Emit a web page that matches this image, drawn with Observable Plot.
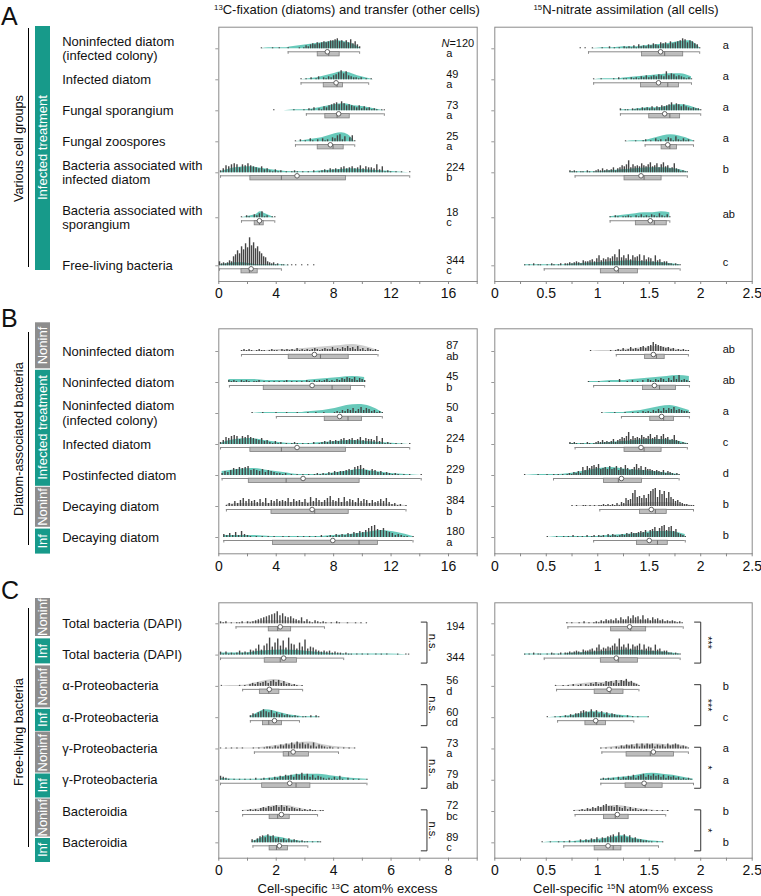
<!DOCTYPE html>
<html>
<head>
<meta charset="utf-8">
<script src="https://cdn.jsdelivr.net/npm/d3@7"></script>
<script src="https://cdn.jsdelivr.net/npm/@observablehq/plot@0.6"></script>
<style>
  html, body { margin: 0; padding: 0; background: #fff; }
  body { font-family: "Liberation Sans", Arial, Helvetica, sans-serif; color: #111; }
  #fig { position: relative; width: 761px; height: 896px; overflow: hidden; background: #fff; }
  #fig > * { position: absolute; }
  .vtxt { writing-mode: vertical-rl; transform: rotate(180deg); text-align: center; white-space: nowrap; }
  sup { font-size: 0.6em; vertical-align: 0.55em; line-height: 0; }
</style>
</head>
<body>
<div id="fig"></div>
<script>
// ---------------- DATA ----------------
// Panel A
const labelsA = ["Noninfected diatom\n(infected colony)", "Infected diatom", "Fungal sporangium", "Fungal zoospores",
  "Bacteria associated with\ninfected diatom", "Bacteria associated with\nsporangium", "Free-living bacteria"];
const treatA = ["inf", "inf", "inf", "inf", "inf", "inf", "inf"];
const nA = ["N=120", "49", "73", "25", "224", "18", "344"];
const letA13C = ["a", "a", "a", "a", "b", "c", "c"];
const letA15N = ["a", "a", "a", "a", "b", "ab", "c"];
// box stats: [whisker low, Q1, median, Q3, whisker high, mean]
const boxA13C = [[4.83, 6.89, 7.66, 8.42, 9.81, 7.56], [5.73, 7.31, 8.24, 8.65, 10.44, 8.17], [6.10, 7.42, 8.24, 9.12, 11.53, 8.35],
  [5.34, 6.89, 7.96, 8.70, 9.47, 7.77], [0.12, 2.20, 4.36, 8.86, 13.3, 5.45], [1.58, 2.50, 2.83, 3.13, 3.90, 2.83], [0.05, 1.58, 2.13, 2.71, 4.36, 2.25]];
const boxA15N = [[0.91, 1.43, 1.65, 1.83, 1.99, 1.61], [0.96, 1.42, 1.68, 1.79, 1.91, 1.59], [1.22, 1.50, 1.70, 1.80, 2.00, 1.65],
  [1.46, 1.62, 1.70, 1.77, 1.93, 1.68], [0.78, 1.26, 1.45, 1.62, 1.87, 1.42], [1.12, 1.37, 1.55, 1.67, 1.70, 1.51], [0.48, 1.03, 1.20, 1.39, 1.80, 1.18]];
// data extent of each distribution [min, max]
const rangeA13C = [[2.97, 9.81], [5.73, 10.79], [3.83, 11.53], [5.34, 9.47], [0.12, 13.3], [1.58, 3.9], [0.05, 6.61]];
const rangeA15N = [[0.83, 1.99], [0.96, 1.91], [1.22, 2.0], [1.27, 1.93], [0.73, 1.87], [1.12, 1.70], [0.29, 1.80]];
// density profile heights, evenly spaced over the extent (base-36 digits)
const densA13C = ["01112345678751", "0124687420", "001124675420", "0123468970", "15642112343210", "01236420", "1233211110000"];
const densA15N = ["001122345781", "0112345663", "1123346641", "0112467641", "1112345541", "12345565", "1112345431"];
// histogram counts, evenly spaced bins over the extent (base-36 digits)
const histA13C = [
  "10000100100010000101" + "32454656767889a7868695742",
  "101020130" + "21324" + "57968" + "43221" + "201010",
  "1000000010001" + "0213021" + "435678697565" + "43524231" + "21011",
  "102010310203" + "1204367" + "250461",
  "2476898587976546" + "342131" + "201012101010201" + "232434356456457465548361" + "210101001",
  "10210324612011",
  "4232354" + "9bfcjgm" + "isknhje" + "c984323" + "1201101" + "0101001" + "001001"];
const histA15N = [
  "1010010001002010" + "1021213142" + "324354365647" + "5678a9687541",
  "10010000102011021" + "213242343" + "54384653432121",
  "2011021213" + "2324243545" + "68576464323221",
  "1000100120103" + "120243152" + "131201",
  "2121011021012" + "3242323524" + "5768c5867697" + "68a67958a674" + "59431211",
  "102101121021312132142131",
  "1010201100102101202" + "232343254" + "45647a5768" + "79b8g8a7b6a89b" + "5a6874a5634" + "4221211"];

// Panel B
const labelsB = ["Noninfected diatom", "Noninfected diatom", "Noninfected diatom\n(infected colony)", "Infected diatom",
  "Postinfected diatom", "Decaying diatom", "Decaying diatom"];
const treatB = ["non", "inf", "inf", "inf", "inf", "non", "inf"];
const nB = ["87", "45", "50", "224", "229", "384", "180"];
const letB13C = ["ab", "b", "a", "b", "b", "b", "a"];
const letB15N = ["ab", "ab", "a", "c", "d", "b", "b"];
const boxB13C = [[1.58, 4.87, 7.08, 9.05, 11.09, 6.66], [0.74, 3.13, 7.89, 9.21, 10.16, 6.50], [4.01, 7.38, 9.00, 9.98, 11.39, 8.42],
  [0.12, 2.20, 4.36, 8.86, 13.3, 5.45], [0.23, 2.09, 4.69, 9.81, 14.1, 5.87], [0.53, 3.67, 6.68, 9.05, 13.04, 6.50], [0.35, 3.78, 9.77, 11.09, 13.53, 7.94]];
const boxB15N = [[1.18, 1.46, 1.57, 1.65, 1.88, 1.54], [0.96, 1.44, 1.60, 1.76, 1.89, 1.55], [1.23, 1.51, 1.64, 1.74, 1.89, 1.62],
  [0.78, 1.26, 1.45, 1.62, 1.87, 1.42], [0.57, 1.06, 1.20, 1.43, 1.79, 1.23], [1.02, 1.41, 1.56, 1.67, 1.93, 1.52], [0.96, 1.38, 1.58, 1.68, 1.85, 1.50]];
const rangeB13C = [[1.58, 11.09], [0.7, 10.16], [2.32, 11.39], [0.12, 13.3], [0.23, 14.1], [0.53, 13.04], [0.35, 13.53]];
const rangeB15N = [[0.93, 1.88], [0.91, 1.89], [1.04, 1.89], [0.73, 1.87], [0.29, 1.79], [0.75, 1.93], [0.51, 1.85]];
const densB13C = ["111223456751", "333222234565", "011112358971", "15642112343210", "46753112464210", "2333444443321", "2221111235751"];
const densB15N = ["0112345421", "1122345676", "0112357863", "1112345541", "0113686531", "0111234421", "0111234663"];
const histB13C = [
  "1212101211012110212" + "1213121212321232" + "24232435342523" + "132121",
  "2121021210112010101" + "0101201010102102" + "12123121324354" + "352432",
  "10001000010001000100010010010001" + "213243524635423121",
  "2476898587976546" + "342131" + "201012101010201" + "232434356456457465548361" + "210101001",
  "243576878956546354" + "3221201010101" + "01212132434" + "456589a75465" + "3423212101" + "010001",
  "13253" + "6857564748365756" + "5847564739586468a658" + "49576485763645758" + "4231201",
  "3242526321" + "0101010100101001010101020" + "1213232435" + "46579bc87965" + "42321101"];
const histB15N = [
  "1000000010" + "1213124232" + "4535697654" + "3423121211",
  "100010001000300" + "1020102032" + "132431426372321",
  "10000100010010102" + "1213242535463432" + "21",
  "2121011021012" + "3242323524" + "5768c5867697" + "68a67958a674" + "59431211",
  "1000001000100101010" + "1213242" + "85979a8b678696" + "79586a7568b79586" + "65454352432121",
  "10100110101011" + "21212131" + "43867dg9a8b" + "8cfhi9gcf8e97" + "564322111",
  "10001001010201010201" + "202120313212" + "324354456574" + "78a69bc7ab684321"];

// Panel C
const labelsC = ["Total bacteria (DAPI)", "Total bacteria (DAPI)", "α-Proteobacteria", "α-Proteobacteria",
  "γ-Proteobacteria", "γ-Proteobacteria", "Bacteroidia", "Bacteroidia"];
const treatC = ["non", "inf", "non", "inf", "non", "inf", "non", "inf"];
const nC = ["194", "344", "56", "60", "73", "79", "72", "89"];
const letC13C = ["", "", "d", "cd", "a", "ab", "bc", "c"];
const letC15N = ["", "", "b", "c", "a", "a", "b", "b"];
const sigC13C = ["n.s.", "n.s.", "n.s.", "n.s."];
const sigC15N = ["***", "***", "*", "*"];
const boxC13C = [[0.60, 1.74, 2.05, 2.52, 3.68, 2.14], [0.06, 1.60, 2.14, 2.72, 4.35, 2.26], [0.83, 1.43, 1.74, 2.11, 2.92, 1.76],
  [1.10, 1.54, 1.74, 2.20, 2.81, 1.94], [1.24, 2.26, 2.43, 3.14, 4.17, 2.59], [0.06, 1.51, 2.69, 3.19, 5.16, 2.47],
  [0.83, 1.77, 2.05, 2.47, 3.44, 2.18], [1.19, 1.77, 2.01, 2.41, 3.10, 2.11]];
const boxC15N = [[0.71, 1.13, 1.32, 1.47, 1.83, 1.31], [0.48, 1.03, 1.20, 1.39, 1.80, 1.18], [0.60, 0.97, 1.12, 1.25, 1.40, 1.11],
  [0.61, 0.88, 0.99, 1.08, 1.35, 0.98], [1.04, 1.28, 1.51, 1.74, 1.88, 1.54], [1.03, 1.27, 1.46, 1.63, 1.93, 1.45],
  [0.78, 1.06, 1.17, 1.30, 1.66, 1.19], [0.67, 0.97, 1.15, 1.23, 1.59, 1.10]];
const rangeC13C = [[0.06, 5.14], [0.06, 6.61], [0.09, 2.90], [1.10, 3.48], [0.06, 4.73], [0.06, 5.16], [0.83, 3.63], [1.16, 3.54]];
const rangeC15N = [[0.70, 1.82], [0.29, 1.80], [0.59, 1.40], [0.51, 1.49], [1.03, 1.88], [1.03, 1.93], [0.77, 1.68], [0.46, 1.63]];
const densC13C = ["1123321110", "2245421110", "0112467521", "1587532111", "0112467421", "2112466421", "1235664211", "1476532111"];
const densC15N = ["1112233221", "1112345431", "1123445652", "0124653211", "1234555442", "1234676531", "1235653211", "0112357421"];
const histC13C = [
  "2120101120212" + "3456789ac8a7675" + "43624213212" + "1010210010010101",
  "3131212423254" + "6a59bh8cg9e7hba6c8f" + "687543434232" + "21211010101001010100010011",
  "1000000101023" + "2434535646352" + "312101",
  "2435686574534232121011020" + "21",
  "101010101000101012" + "213243546475645362" + "43212101010101",
  "432101" + "0101010201202" + "132435453657463524" + "321213141020101001",
  "1012121343545646453432312121101" + "1",
  "324675867453424232121101011"];
const histC15N = [
  "101001020101" + "213243435364" + "475867484536" + "453423232121",
  "1010201100102101202" + "232343254" + "45647a5768" + "79b8g8a7b6a89b" + "5a6874a5634" + "4221211",
  "1001010201202132" + "4232545363657453" + "21",
  "1001010213" + "2446765857" + "4635243221" + "0201010001",
  "10101021324" + "342525354524" + "342534542321",
  "1212120313" + "2435245635" + "4645352434" + "23121210",
  "1012132435" + "4675546435" + "2423121201" + "010101",
  "100100101020103" + "1324352546785a6" + "857453322110101"];

// ---------------- LAYOUT / STYLE ----------------
const FONT = '"Liberation Sans", Arial, Helvetica, sans-serif';
const TEAL_BAR = "#179a8a", GRAY_BAR = "#8d8d8d";
const TEAL_V = "#58c3b3", GRAY_V = "#c9c9c9";

const panels = [
  {top: 0, svgH: 305, frameTop: 26.7, frameBot: 281, firstRow: 48.3, spacing: 31, slots: [0, 1, 2, 3, 4, 5.45, 7],
   labels: labelsA, treat: treatA, n: nA, x13: [0, 18], ticks13: [2, 4], rOff: -3.5,
   c13: {box: boxA13C, range: rangeA13C, dens: densA13C, hist: histA13C, letters: letA13C},
   n15: {box: boxA15N, range: rangeA15N, dens: densA15N, hist: histA15N, letters: letA15N}},
  {top: 305, svgH: 275, frameTop: 328.3, frameBot: 553.3, firstRow: 351, spacing: 31, slots: [0, 1, 2, 3, 4, 5, 6],
   labels: labelsB, treat: treatB, n: nB, x13: [0, 18], ticks13: [2, 4], rOff: -2,
   c13: {box: boxB13C, range: rangeB13C, dens: densB13C, hist: histB13C, letters: letB13C},
   n15: {box: boxB15N, range: rangeB15N, dens: densB15N, hist: histB15N, letters: letB15N}},
  {top: 580, svgH: 300, frameTop: 602.3, frameBot: 857.7, firstRow: 623.3, spacing: 31.29, slots: [0, 1, 2, 3, 4, 5, 6, 7],
   labels: labelsC, treat: treatC, n: nC, x13: [0, 9], ticks13: [1, 2], rOff: 0,
   c13: {box: boxC13C, range: rangeC13C, dens: densC13C, hist: histC13C, letters: letC13C, sig: sigC13C, br: [7.05, 7.25, 7.46]},
   n15: {box: boxC15N, range: rangeC15N, dens: densC15N, hist: histC15N, letters: letC15N, sig: sigC15N, br: [1.94, 2.0, 2.065]}}
];

const fig = document.getElementById("fig");

function panelPlot(P, side) {
  const S = P[side];
  const isLeft = side === "c13";
  const px = 1 / P.spacing;
  const geo = isLeft ? {x: 0, w: 485, mL: 218.3, mR: 8.3} : {x: 485, w: 276, mL: 9.3, mR: 9.3};
  const xdom = isLeft ? P.x13 : [0, 2.5];
  let ticks, fmt;
  if (isLeft) {
    const [step, lab] = P.ticks13;
    ticks = d3.range(0, xdom[1] + 0.001, step);
    fmt = d => (d % lab === 0 && d < xdom[1]) ? String(d) : "";
  } else {
    ticks = d3.range(0, 11).map(k => k * 0.25);
    fmt = d => (Math.abs(d * 2 - Math.round(d * 2)) < 1e-9) ? String(+d.toFixed(2)) : "";
  }
  const rows = P.labels.map((label, i) => {
    const [wlo, q1, med, q3, whi, mean] = S.box[i];
    return {i, y: P.slots[i], label, treat: P.treat[i], n: P.n[i], letter: S.letters[i],
      wlo, q1, med, q3, whi, mean, lo: S.range[i][0], hi: S.range[i][1]};
  });
  const dens = [], spikes = [], caps = [];
  for (const r of rows) {
    const ds = S.dens[r.i], hs = S.hist[r.i];
    const fill = r.treat === "inf" ? TEAL_V : GRAY_V;
    for (let k = 0; k < ds.length; k++) {
      dens.push({i: r.i, x: r.lo + (r.hi - r.lo) * k / (ds.length - 1), y1: r.y, y2: r.y - parseInt(ds[k], 36) * px, fill});
    }
    for (let k = 0; k < hs.length; k++) {
      const h = parseInt(hs[k], 36);
      if (h > 0) spikes.push({x: r.lo + (r.hi - r.lo) * k / (hs.length - 1), y1: r.y, y2: r.y - h * px});
    }
    caps.push({x: r.wlo, y: r.y}, {x: r.whi, y: r.y});
  }
  const yTop = (P.frameTop - P.firstRow) / P.spacing;
  const yBot = (P.frameBot - P.firstRow) / P.spacing;

  const marks = [
    Plot.frame({stroke: "#8a8a8a", strokeWidth: 1}),
    Plot.axisY({ticks: P.slots, tickSize: 3, tickFormat: () => "", stroke: "#999", label: null}),
    Plot.axisX({ticks, tickFormat: fmt, tickSize: 3, tickPadding: 4, fontSize: 14, stroke: "#888", label: null}),
    Plot.areaY(dens, {x: "x", y1: "y1", y2: "y2", z: "i", fill: "fill", fillOpacity: 0.9, curve: "monotone-x"}),
    Plot.ruleX(spikes, {x: "x", y1: "y1", y2: "y2", stroke: "#454545", strokeWidth: 1.4}),
    Plot.ruleY(rows, {x1: "wlo", x2: "whi", y: r => r.y + 3 * px, stroke: "#8a8a8a", strokeWidth: 1}),
    Plot.ruleX(caps, {x: "x", y1: r => r.y + 3 * px, y2: r => r.y + 5.5 * px, stroke: "#8a8a8a", strokeWidth: 1}),
    Plot.rect(rows, {x1: "q1", x2: "q3", y1: r => r.y + 3.2 * px, y2: r => r.y + 7.6 * px, fill: "#bdbdbd", stroke: "#808080", strokeWidth: 0.8}),
    Plot.ruleX(rows, {x: "med", y1: r => r.y + 3.2 * px, y2: r => r.y + 7.6 * px, stroke: "#707070", strokeWidth: 1}),
    Plot.dot(rows, {x: "mean", y: r => r.y + 3 * px, r: 2.3, fill: "white", stroke: "#555", strokeWidth: 0.9})
  ];

  if (isLeft) {
    marks.push(Plot.text(rows, {y: "y", text: "label", frameAnchor: "left", dx: -156.6, dy: -0.5, textAnchor: "start",
      fontSize: 13, lineHeight: 1.08, fill: "#111"}));
    const plainN = rows.filter(r => !r.n.startsWith("N="));
    const italN = rows.filter(r => r.n.startsWith("N="));
    marks.push(Plot.text(plainN, {y: r => r.letter ? r.y - 5.6 * px : r.y + 2.2 * px, text: "n", frameAnchor: "right",
      dx: -31, textAnchor: "start", fontSize: 11, fill: "#111"}));
    marks.push(Plot.text(italN, {y: r => r.y - 5.6 * px, text: r => r.n.slice(1), frameAnchor: "right",
      dx: -27.8, textAnchor: "start", fontSize: 11, fill: "#111"}));
    marks.push(Plot.text(italN, {y: r => r.y - 5.6 * px, text: r => r.n.slice(0, 1), frameAnchor: "right",
      dx: -27.8, textAnchor: "end", fontSize: 11, fontStyle: "italic", fill: "#111"}));
    marks.push(Plot.text(rows.filter(r => r.letter), {y: r => r.y + 5 * px, text: "letter", frameAnchor: "right",
      dx: -31, textAnchor: "start", fontSize: 11, fill: "#111"}));
  } else {
    marks.push(Plot.text(rows.filter(r => r.letter), {y: r => r.y + P.rOff * px, text: "letter", frameAnchor: "right",
      dx: -29.5, textAnchor: "start", fontSize: 11, fill: "#111"}));
  }

  if (S.sig) {
    const [x0, xb, xt] = S.br;
    const pairs = S.sig.map((sig, j) => ({j, sig, top: P.slots[2 * j] - 1.7 * px, bot: P.slots[2 * j + 1] + 8 * px}));
    const pts = pairs.flatMap(p => [{j: p.j, x: x0, y: p.top}, {j: p.j, x: xb, y: p.top}, {j: p.j, x: xb, y: p.bot}, {j: p.j, x: x0, y: p.bot}]);
    marks.push(Plot.line(pts, {x: "x", y: "y", z: "j", stroke: "#333", strokeWidth: 1}));
    marks.push(Plot.text(pairs, {x: () => xt, y: p => (p.top + p.bot) / 2, text: "sig", rotate: 90, fontSize: 11, fill: "#111"}));
  }

  const svg = Plot.plot({
    width: geo.w, height: P.svgH,
    marginLeft: geo.mL, marginRight: geo.mR, marginTop: P.frameTop - P.top, marginBottom: P.top + P.svgH - P.frameBot,
    x: {domain: xdom, label: null},
    y: {domain: [yTop, yBot], reverse: true, label: null},
    color: {type: "identity"},
    style: {fontFamily: FONT, fontSize: "11px", background: "transparent", overflow: "visible", color: "#111"},
    marks
  });
  svg.style.left = geo.x + "px";
  svg.style.top = P.top + "px";
  fig.appendChild(svg);
}

for (const P of panels) { panelPlot(P, "c13"); panelPlot(P, "n15"); }

// ---------------- HTML annotations ----------------
function addDiv(html, css, cls) {
  const d = document.createElement("div");
  if (cls) d.className = cls;
  d.innerHTML = html;
  Object.assign(d.style, css);
  fig.appendChild(d);
  return d;
}
const deco = [
  {letter: "A", letterTop: 4, group: "Various cell groups", groupCY: 149, line: [28, 267],
   segs: [["Infected treatment", "inf", 26, 270]]},
  {letter: "B", letterTop: 306, group: "Diatom-associated bacteria", groupCY: 439, line: [331.7, 545],
   segs: [["Noninf", "non", 321.7, 368], ["Infected treatment", "inf", 369.7, 485.5], ["Noninf", "non", 487.2, 527], ["Inf", "inf", 528.7, 553.3]]},
  {letter: "C", letterTop: 578, group: "Free-living bacteria", groupCY: 732, line: [608.3, 846.7],
   segs: [["Noninf", "non", 598, 636], ["Inf", "inf", 637.6, 663], ["Noninf", "non", 664.6, 707], ["Inf", "inf", 708.6, 730.5],
     ["Noninf", "non", 732, 772.5], ["Inf", "inf", 774, 797.5], ["Noninf", "non", 799, 836.5], ["Inf", "inf", 838, 862]]}
];
for (const D of deco) {
  addDiv(D.letter, {left: "1px", top: D.letterTop + "px", fontSize: "25px", lineHeight: "1"});
  addDiv(D.group, {left: "10px", top: (D.groupCY - 110) + "px", width: "18px", height: "220px", lineHeight: "18px", fontSize: "12.7px"}, "vtxt");
  addDiv("", {left: "28px", top: D.line[0] + "px", width: "1.3px", height: (D.line[1] - D.line[0]) + "px", background: "#000"});
  for (const [lab, t, y0, y1] of D.segs) {
    addDiv(lab, {left: "35px", top: y0 + "px", width: "15px", height: (y1 - y0) + "px", lineHeight: "15px",
      background: t === "inf" ? TEAL_BAR : GRAY_BAR, color: "#fff", fontSize: "13px", overflow: "hidden"}, "vtxt");
  }
}
addDiv("<sup>13</sup>C-fixation (diatoms) and transfer (other cells)", {left: "0px", width: "694px", top: "2px", textAlign: "center", fontSize: "13px", whiteSpace: "nowrap"});
addDiv("<sup>15</sup>N-nitrate assimilation (all cells)", {left: "491px", width: "270px", top: "2px", textAlign: "center", fontSize: "13px", whiteSpace: "nowrap"});
addDiv("Cell-specific <sup>13</sup>C atom% excess", {left: "218px", width: "259px", top: "881px", textAlign: "center", fontSize: "13px", whiteSpace: "nowrap"});
addDiv("Cell-specific <sup>15</sup>N atom% excess", {left: "494px", width: "258px", top: "881px", textAlign: "center", fontSize: "13px", whiteSpace: "nowrap"});
</script>
</body>
</html>
